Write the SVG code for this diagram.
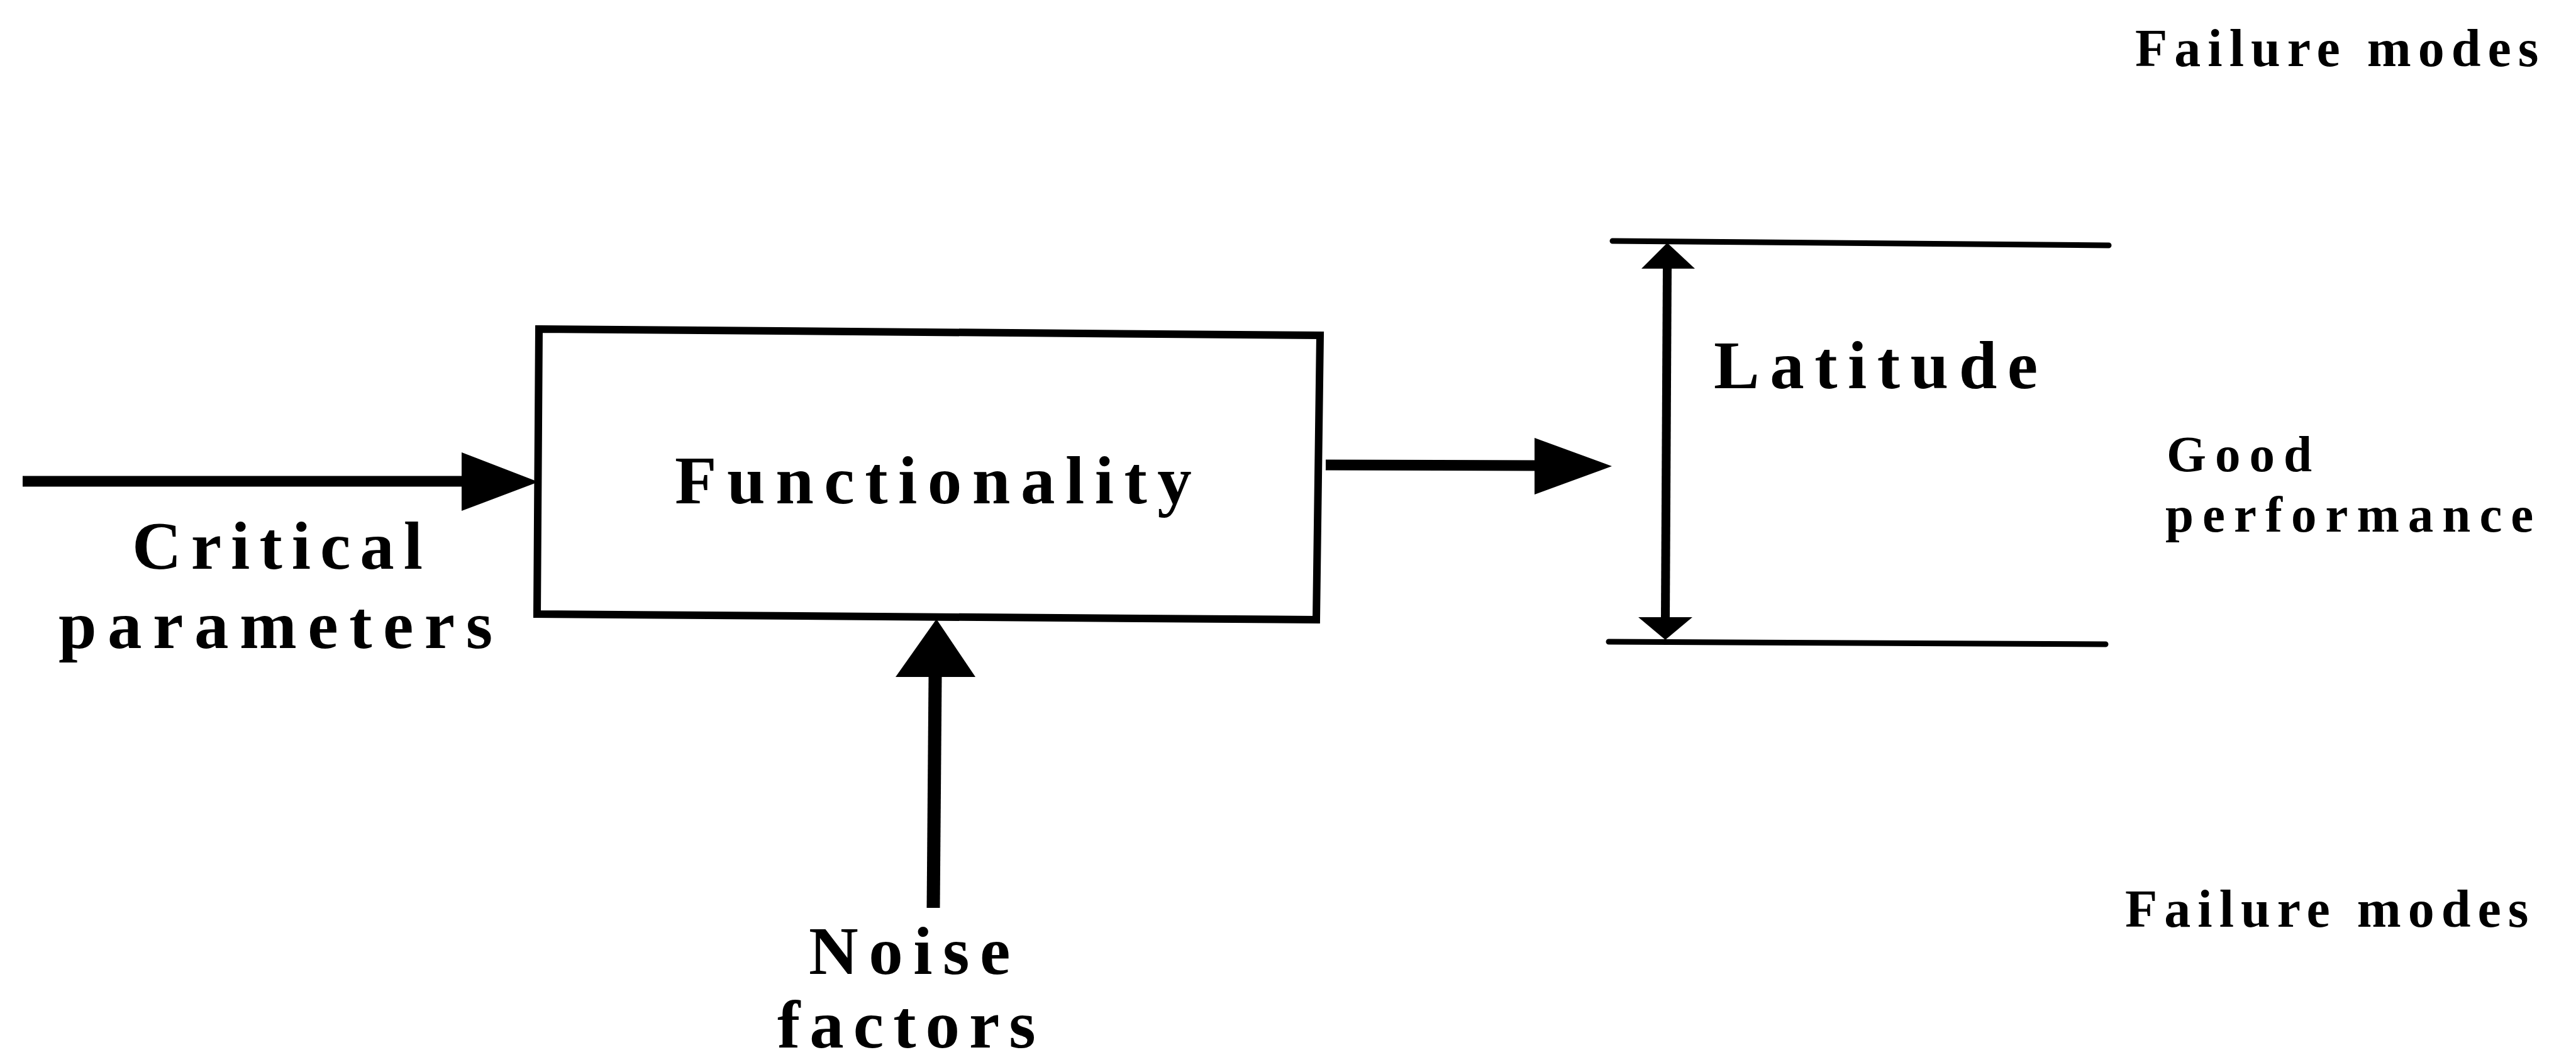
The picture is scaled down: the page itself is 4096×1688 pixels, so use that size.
<svg xmlns="http://www.w3.org/2000/svg" width="4096" height="1688" viewBox="0 0 4096 1688">
  <style>
    .bg { fill: #ffffff; }
    .lbl { font-family: "Liberation Serif", "Times New Roman", serif; font-weight: bold; fill: #000000; }
    .big { font-size: 109px; letter-spacing: 16.5px; }
    .side { font-size: 84px; letter-spacing: 11px; }
    .mid { font-size: 81px; letter-spacing: 14px; }
    .shaft { stroke: #000000; fill: none; stroke-linecap: butt; }
    .rule { stroke: #000000; fill: none; stroke-width: 9; stroke-linecap: round; }
    .head { fill: #000000; stroke: none; }
    .box { fill: #ffffff; stroke: #000000; stroke-width: 12; stroke-linejoin: miter; }
  </style>

  <rect class="bg" x="0" y="0" width="4096" height="1688"/>

  <!-- connectors: input, noise, output and the latitude band -->
  <g id="connectors">
    <!-- critical parameters into the block -->
    <line class="shaft" x1="36" y1="765" x2="736" y2="765" stroke-width="17"/>
    <polygon class="head" points="734,719 856,766 734,812"/>

    <!-- noise factors up into the block -->
    <line class="shaft" x1="1484" y1="1443" x2="1487" y2="1074" stroke-width="21"/>
    <polygon class="head" points="1424,1076 1489,984 1551,1076"/>

    <!-- block output -->
    <line class="shaft" x1="2108" y1="739" x2="2443" y2="740" stroke-width="17"/>
    <polygon class="head" points="2440,696 2563,741 2440,786"/>

    <!-- upper and lower limits of the good-performance band -->
    <line class="rule" x1="2564" y1="383" x2="3353" y2="390"/>
    <line class="rule" x1="2558" y1="1020" x2="3348" y2="1024"/>

    <!-- latitude double arrow -->
    <line class="shaft" x1="2651" y1="425" x2="2648" y2="983" stroke-width="14"/>
    <polygon class="head" points="2610,427 2651,386 2695,427"/>
    <polygon class="head" points="2605,981 2648,1017 2691,981"/>
  </g>

  <!-- central block -->
  <g id="functionality">
    <polygon class="box" points="857,523 2099,533 2093,985 854,976"/>
    <text class="lbl big" x="1073" y="800">Functionality</text>
  </g>

  <g id="critical-parameters">
    <text class="lbl big" x="210" y="904" style="letter-spacing:15px">Critical</text>
    <text class="lbl big" x="93" y="1030" style="letter-spacing:17.5px">parameters</text>
  </g>

  <g id="noise-factors">
    <text class="lbl big" x="1286" y="1548">Noise</text>
    <text class="lbl big" x="1236" y="1665" style="letter-spacing:15px">factors</text>
  </g>

  <g id="latitude">
    <text class="lbl big" x="2725" y="617">Latitude</text>
  </g>

  <g id="failure-modes-upper">
    <text class="lbl side" x="3395" y="105">Failure modes</text>
  </g>

  <g id="good-performance">
    <text class="lbl mid" x="3445" y="749">Good</text>
    <text class="lbl mid" x="3443" y="845">performance</text>
  </g>

  <g id="failure-modes-lower">
    <text class="lbl side" x="3379" y="1473">Failure modes</text>
  </g>
</svg>
